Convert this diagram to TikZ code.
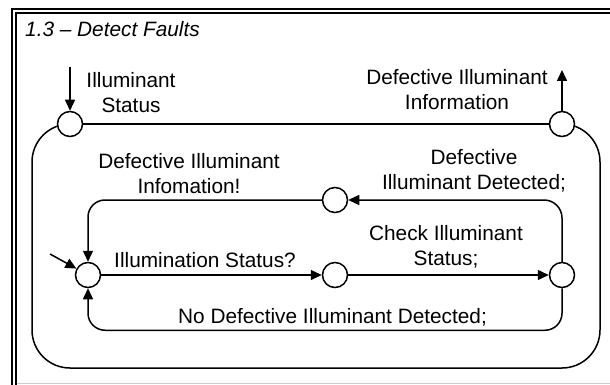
\documentclass[tikz,border=0pt]{standalone}
\usepackage{fontspec}
\setmainfont{Liberation Sans}
\usetikzlibrary{arrows.meta,backgrounds}
\begin{document}
\begin{tikzpicture}[x=1pt,y=-1pt,
  st/.style={circle,draw,line width=1.5pt,fill=white,minimum size=25pt,inner sep=0pt},
  lbl/.style={font=\fontsize{20.8pt}{25pt}\selectfont,inner sep=0pt,align=center},
  conn/.style={line width=1.5pt},
  arr/.style={conn,-{Triangle[length=11pt,width=10pt]}},
  frameline/.style={line width=2pt}]
\useasboundingbox (0,0) rectangle (610,385);
% frame
\draw[frameline] (12,385) -- (12,9) -- (610,9);
\draw[frameline] (16,385) -- (16,13) -- (610,13);
\draw[line width=1pt,black!20] (17,383) -- (610,383);
% title
\node[lbl,anchor=base west,font=\fontsize{20.8pt}{25pt}\selectfont\itshape] (title) at (25,37) {1.3 -- Detect Faults};
% states
\node[st] (tl) at (70,124) {};
\node[st] (tr) at (562,124) {};
\node[st] (s) at (88,275) {};
\node[st] (m) at (335,275) {};
\node[st] (r) at (562,275) {};
\node[st] (tm) at (335,200) {};
\coordinate (inA) at (70,67);
\coordinate (outA) at (562,70);
\coordinate (init) at (50,254);
\begin{scope}[on background layer]
\draw[conn] (tl.center) -- (tr.center);
\draw[conn,rounded corners=38pt] (tl.center) -- (32,124) -- (32,368) -- (600,368) -- (600,124) -- (tr.center);
\end{scope}
% connectors
\draw[arr] (s) -- (m);
\draw[arr] (m) -- (r);
\draw[arr,rounded corners=18pt] (r.north) |- (tm.east);
\draw[arr,rounded corners=17pt] (tm.west) -| (s.north);
\draw[arr,rounded corners=17pt] (r.south) |- ([yshift=-42pt]s.south) -- (s.south);
\draw[arr] (inA) -- (tl);
\draw[arr] (tr) -- (outA);
\draw[arr] (init) -- (s);
% labels
\node[lbl] (l1) at (131,92.4) {Illuminant\\Status};
\node[lbl] (l2) at (457,89.4) {Defective Illuminant\\Information};
\node[lbl] (l3) at (189,173.9) {Defective Illuminant\\Infomation!};
\node[lbl] (l4) at (474,170.4) {Defective\\Illuminant Detected;};
\node[lbl,anchor=base] (l5) at (205,267) {Illumination Status?};
\node[lbl] (l6) at (446,246.9) {Check Illuminant\\Status;};
\node[lbl,anchor=base] (l7) at (332.5,323) {No Defective Illuminant Detected;};
\end{tikzpicture}
\end{document}
